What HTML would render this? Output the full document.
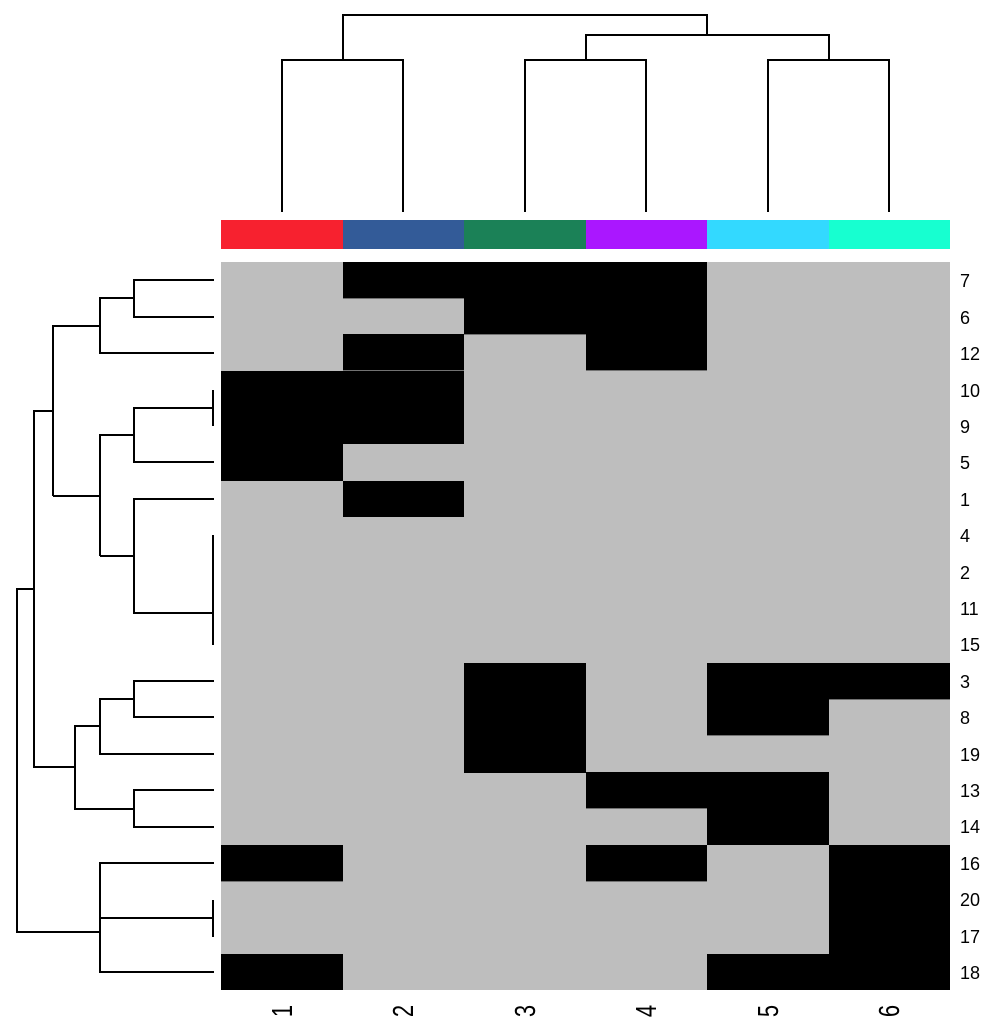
<!DOCTYPE html>
<html><head><meta charset="utf-8"><style>body{margin:0;background:#fff}svg{display:block}</style></head>
<body>
<svg width="1000" height="1030" xmlns="http://www.w3.org/2000/svg" font-family="Liberation Sans, sans-serif">
<rect width="1000" height="1030" fill="#fff"/>
<rect x="221" y="220" width="122" height="29" fill="#f7212f"/>
<rect x="343" y="220" width="121" height="29" fill="#335b98"/>
<rect x="464" y="220" width="122" height="29" fill="#1b8157"/>
<rect x="586" y="220" width="121" height="29" fill="#aa17ff"/>
<rect x="707" y="220" width="122" height="29" fill="#33d9ff"/>
<rect x="829" y="220" width="121" height="29" fill="#17ffd0"/>
<rect x="221" y="262" width="729" height="728" fill="#bebebe"/>
<g fill="#000">
<rect x="343" y="262" width="364" height="36.4"/>
<rect x="464" y="298" width="243" height="36.4"/>
<rect x="343" y="334" width="121" height="36.4"/>
<rect x="586" y="334" width="121" height="36.4"/>
<rect x="221" y="371" width="243" height="73"/>
<rect x="221" y="444" width="122" height="37"/>
<rect x="343" y="481" width="121" height="36"/>
<rect x="464" y="663" width="122" height="110"/>
<rect x="707" y="663" width="243" height="36.4"/>
<rect x="707" y="699" width="122" height="36.4"/>
<rect x="586" y="772" width="243" height="36.4"/>
<rect x="707" y="808" width="122" height="37"/>
<rect x="221" y="845" width="122" height="36.4"/>
<rect x="586" y="845" width="121" height="36.4"/>
<rect x="829" y="845" width="121" height="145"/>
<rect x="221" y="954" width="122" height="36"/>
<rect x="707" y="954" width="122" height="36"/>
</g>
<g stroke="#000" stroke-width="2" fill="none">
<path d="M282 212V60H403V212"/>
<path d="M525 212V60H646V212"/>
<path d="M768 212V60H889V212"/>
<path d="M586 60V35H829V60"/>
<path d="M343 60V15H707V35"/>
</g>
<g stroke="#000" stroke-width="2" fill="none">
<path d="M214 280H134V317H214"/>
<path d="M134 298H100V353H214"/>
<path d="M100 326H53V496"/>
<path d="M213 390V426"/>
<path d="M213 408H134V462H214"/>
<path d="M134 435H100V556"/>
<path d="M214 499H134V613H213"/>
<path d="M213 535V645"/>
<path d="M100 556H134"/>
<path d="M53 496H100"/>
<path d="M53 411H34V767H75"/>
<path d="M214 681H134V717H214"/>
<path d="M134 699H100V754H214"/>
<path d="M100 726H75V809H134"/>
<path d="M214 790H134V827H214"/>
<path d="M34 589H17V932H100"/>
<path d="M214 863H100V972H214"/>
<path d="M100 918H213"/>
<path d="M213 900V937"/>
</g>
<g font-size="18" fill="#000">
<text x="960" y="287">7</text>
<text x="960" y="324">6</text>
<text x="960" y="360">12</text>
<text x="960" y="397">10</text>
<text x="960" y="433">9</text>
<text x="960" y="469">5</text>
<text x="960" y="506">1</text>
<text x="960" y="542">4</text>
<text x="960" y="579">2</text>
<text x="960" y="615">11</text>
<text x="960" y="651">15</text>
<text x="960" y="688">3</text>
<text x="960" y="724">8</text>
<text x="960" y="761">19</text>
<text x="960" y="797">13</text>
<text x="960" y="833">14</text>
<text x="960" y="870">16</text>
<text x="960" y="906">20</text>
<text x="960" y="943">17</text>
<text x="960" y="979">18</text>
</g>
<g font-size="22" fill="#000" text-anchor="middle">
<text transform="translate(292,1011) rotate(-90) scale(1,1.3)">1</text>
<text transform="translate(413,1011) rotate(-90) scale(1,1.3)">2</text>
<text transform="translate(535,1011) rotate(-90) scale(1,1.3)">3</text>
<text transform="translate(656,1011) rotate(-90) scale(1,1.3)">4</text>
<text transform="translate(778,1011) rotate(-90) scale(1,1.3)">5</text>
<text transform="translate(899,1011) rotate(-90) scale(1,1.3)">6</text>
</g>
</svg>
</body></html>
